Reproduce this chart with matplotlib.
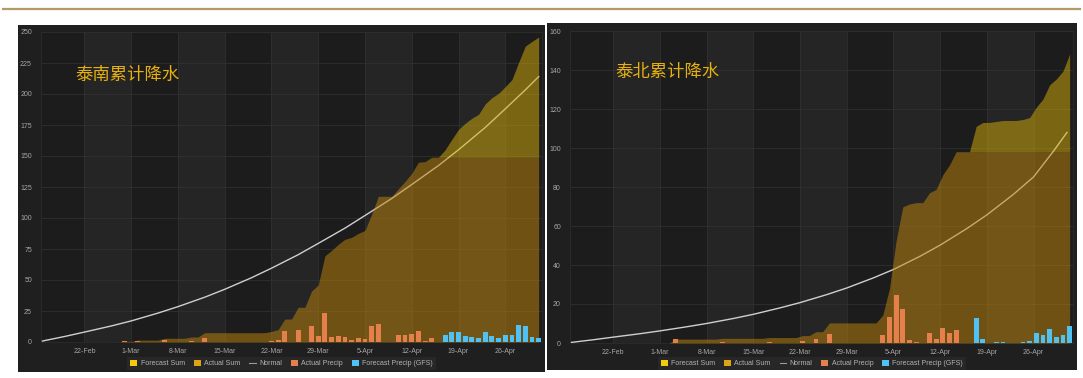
import matplotlib.pyplot as plt
from matplotlib.lines import Line2D
from matplotlib.patches import Patch, Rectangle
import numpy as np
import pandas as pd

plt.rcParams['font.family'] = ['Liberation Sans', 'DejaVu Sans']

YEAR = '2021-'
days = pd.date_range(YEAR + '02-16', YEAR + '05-01', freq='D')
tick_dates = ['02-22', '03-01', '03-08', '03-15', '03-22', '03-29',
              '04-05', '04-12', '04-19', '04-26']

# 泰南 (south)
south_actual_dates = ['02-28', '03-02', '03-06', '03-10', '03-12', '03-22', '03-23',
                      '03-24', '03-26', '03-28', '03-29', '03-30', '03-31', '04-01',
                      '04-02', '04-03', '04-04', '04-05', '04-06', '04-07', '04-10',
                      '04-11', '04-12', '04-13', '04-14', '04-15']
south_actual_mm = [0.5, 1.0, 1.5, 1.0, 3.5, 1.0, 1.5,
                   8.5, 9.5, 13.0, 5.0, 23.5, 4.3, 5.0,
                   4.0, 1.6, 3.2, 2.4, 13.0, 14.5, 6.0,
                   6.0, 6.5, 9.0, 0.5, 3.5]
south_gfs_dates = ['04-17', '04-18', '04-19', '04-20', '04-21', '04-22', '04-23',
                   '04-24', '04-25', '04-26', '04-27', '04-28', '04-29', '04-30', '05-01']
south_gfs_mm = [6.0, 8.4, 8.0, 5.0, 4.0, 3.2, 8.4, 5.0, 3.5, 5.4, 5.7, 13.8, 13.2, 3.8, 3.5]
normal_dates = ['02-15', '02-19', '02-22', '02-26', '03-01', '03-05', '03-08',
                '03-12', '03-15', '03-19', '03-22', '03-26', '03-29', '04-02',
                '04-05', '04-09', '04-12', '04-16', '04-19', '04-23', '04-26',
                '04-29', '05-01']
south_normal_sum = [0, 4.4, 8, 12.9, 17, 23.3, 28.5, 36.1, 42.5, 51.8, 59.5, 70.4, 79.5,
                    91.8, 102, 115.7, 127, 142.3, 155, 173, 188, 203.3, 214]

# 泰北 (north)
north_actual_dates = ['03-03', '03-10', '03-17', '03-22', '03-24', '03-26', '04-03',
                      '04-04', '04-05', '04-06', '04-07', '04-08', '04-10', '04-11',
                      '04-12', '04-13', '04-14']
north_actual_mm = [2.0, 0.4, 0.4, 1.0, 2.0, 4.5, 4.0,
                   13.5, 24.5, 17.5, 1.5, 0.7, 5.0, 1.8,
                   7.5, 5.0, 6.8]
north_gfs_dates = ['04-17', '04-18', '04-20', '04-21', '04-24', '04-25', '04-26',
                   '04-27', '04-28', '04-29', '04-30', '05-01']
north_gfs_mm = [13.0, 2.0, 0.5, 0.5, 0.5, 1.0, 5.3, 4.2, 7.3, 3.0, 4.0, 8.8]
north_normal_sum = [0, 1.65, 3, 4.75, 6.2, 8.3, 10, 12.55, 14.7, 18, 20.7, 24.8, 28.2,
                    33.4, 37.7, 44.5, 50.2, 58.7, 65.7, 76.3, 85.2, 98.5, 108]

W, H = 1083, 378
PANEL = '#1f1f20'
PLOT_DARK = '#1c1c1d'
PLOT_LIGHT = '#252526'
GRID = '#303031'
TICK_COLOR = '#a6a6a6'
SUM_ACTUAL = '#dca312'
SUM_FORECAST = '#f2cc0c'
BAR_ACTUAL = '#e5804c'
BAR_GFS = '#4fc1f2'


def day_idx(dates):
    return np.array([(pd.Timestamp(YEAR + d) - days[0]).days for d in dates])


def daily(dates, vals):
    out = np.zeros(len(days))
    out[day_idx(dates)] = vals
    return out


def fig_rect(px):
    x0, y0, x1, y1 = px
    return [x0 / W, 1 - y1 / H, (x1 - x0) / W, (y1 - y0) / H]


def draw_panel(panel_px, axes_px, xlim, shift, title, title_xy,
               act_d, act_v, gfs_d, gfs_v, norm_v, ymax, ystep):
    r = fig_rect(panel_px)
    fig.add_artist(Rectangle((r[0], r[1]), r[2], r[3], transform=fig.transFigure,
                             facecolor=PANEL, edgecolor='none', zorder=-5))
    ax = fig.add_axes(fig_rect(axes_px))
    ax.set_facecolor(PLOT_DARK)

    ticks = day_idx(tick_dates)
    for i in range(0, len(ticks) - 1, 2):
        ax.axvspan(ticks[i], ticks[i + 1], color=PLOT_LIGHT, lw=0, zorder=0)

    x = np.arange(len(days))
    actual = daily(act_d, act_v)
    gfs = daily(gfs_d, gfs_v)
    actual_sum = np.cumsum(actual)
    forecast_sum = actual_sum + np.cumsum(gfs)

    ax.plot(day_idx(normal_dates), norm_v, color='#cfcfcf', lw=1.0, zorder=2)
    ax.fill_between(x + shift, 0, actual_sum, color='#c0860a', alpha=0.5, lw=0, zorder=3)
    ax.fill_between(x + shift, actual_sum, forecast_sum, color='#d8b008', alpha=0.5,
                    lw=0, zorder=3)

    m = actual > 0
    ax.bar(x[m] + shift, actual[m], width=0.72, color=BAR_ACTUAL, lw=0, zorder=4)
    m = gfs > 0
    ax.bar(x[m] + shift, gfs[m], width=0.72, color=BAR_GFS, lw=0, zorder=4)

    ax.set_xlim(*xlim)
    ax.set_ylim(0, ymax)
    ax.set_yticks(np.arange(0, ymax + 1, ystep))
    ax.set_xticks(ticks)
    ax.set_xticklabels([f"{pd.Timestamp(YEAR + d).day}-{pd.Timestamp(YEAR + d):%b}"
                        for d in tick_dates])
    ax.grid(True, color=GRID, lw=0.6)
    ax.set_axisbelow(True)
    ax.tick_params(axis='both', length=0, labelsize=5, labelcolor=TICK_COLOR)
    ax.tick_params(axis='y', pad=6.5)
    ax.tick_params(axis='x', pad=4.5)
    for s in ax.spines.values():
        s.set_color('#2c2c2d')
        s.set_linewidth(0.6)

    fig.text(title_xy[0] / W, 1 - title_xy[1] / H, title, color='#e6b10e',
             fontsize=12.5, family=['Noto Sans CJK SC'], va='center', ha='left')

    handles = [Patch(facecolor=SUM_FORECAST, edgecolor='none', label='Forecast Sum'),
               Patch(facecolor=SUM_ACTUAL, edgecolor='none', label='Actual Sum'),
               Line2D([], [], color='#9a9a9a', lw=0.8, label='Normal'),
               Patch(facecolor=BAR_ACTUAL, edgecolor='none', label='Actual Precip'),
               Patch(facecolor=BAR_GFS, edgecolor='none', label='Forecast Precip (GFS)')]
    cx = (panel_px[0] + panel_px[2]) / 2
    leg = fig.legend(handles=handles, loc='center', bbox_to_anchor=(cx / W, 1 - 363.5 / H),
                     ncol=5, fontsize=5, frameon=True, facecolor='#272727',
                     edgecolor='none', framealpha=1, labelcolor='#b4b4b4',
                     handlelength=1.0, handleheight=1.0, handletextpad=0.45,
                     columnspacing=1.3, borderpad=0.45, borderaxespad=0)
    leg.get_frame().set_boxstyle('square', pad=0)
    return ax


fig = plt.figure(figsize=(W / 100, H / 100), dpi=100)
fig.patch.set_facecolor('white')

# golden rule at the top
fig.add_artist(Line2D([3 / W, 1080 / W], [1 - 9 / H, 1 - 9 / H],
                      color='#b49a66', lw=1.6, transform=fig.transFigure))

draw_panel((18, 25, 545, 372), (41, 32, 542, 342), (-0.5, 74.5), 0.0,
           '泰南累计降水', (75, 75),
           south_actual_dates, south_actual_mm, south_gfs_dates, south_gfs_mm,
           south_normal_sum, 250, 25)

draw_panel((547, 23, 1077, 370), (570, 31, 1073, 343), (-0.45, 74.9), 0.4,
           '泰北累计降水', (615, 72),
           north_actual_dates, north_actual_mm, north_gfs_dates, north_gfs_mm,
           north_normal_sum, 160, 20)

fig.savefig('out.png', dpi=100, facecolor=fig.get_facecolor())
